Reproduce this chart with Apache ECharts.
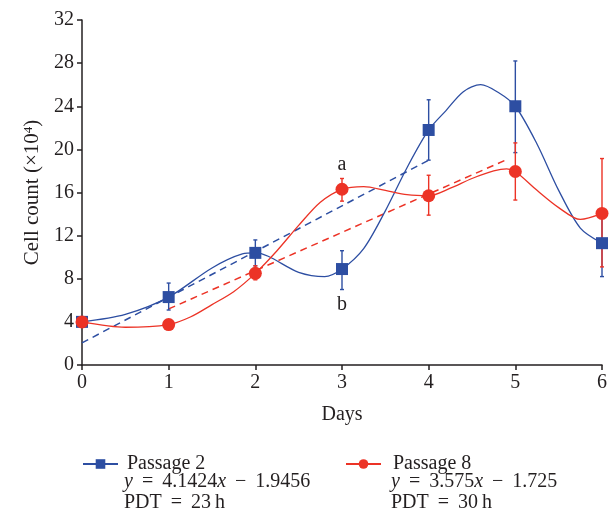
<!DOCTYPE html>
<html>
<head>
<meta charset="utf-8">
<script src="https://cdn.jsdelivr.net/npm/echarts@6/dist/echarts.min.js"></script>
<style>
  html, body { margin: 0; padding: 0; background: #fff; }
  #main { width: 612px; height: 514px; }
</style>
</head>
<body>
<div id="main"></div>
<script>
// measured points (days, mean, error bar low/high)
var days = [0, 1, 2, 3, 4, 5, 6];
var p2Mean = [4.0, 6.3, 10.4, 8.9, 21.8, 24.0, 11.3];
var p2Low = [4.0, 5.1, 9.2, 7.0, 19.0, 19.7, 8.2];
var p2High = [4.0, 7.6, 11.6, 10.6, 24.6, 28.2, 14.4];
var p8Mean = [4.0, 3.75, 8.5, 16.3, 15.7, 17.95, 14.06];
var p8Low = [4.0, 3.75, 7.9, 15.2, 13.9, 15.3, 9.1];
var p8High = [4.0, 3.75, 9.2, 17.3, 17.6, 20.6, 19.15];

var p2CurveX = [0.5, 1.5, 1.85, 2.5, 2.8, 3.25, 3.5, 3.75, 4.2, 4.4, 4.6, 4.8, 5.25, 5.5, 5.75];
var p2CurveY = [4.7, 9.0, 10.3, 8.6, 8.2, 10.8, 14.3, 18.3, 23.6, 25.35, 26.0, 25.3, 20.5, 16.2, 12.7];
var p8CurveX = [0.5, 1.25, 1.5, 1.75, 2.25, 2.5, 2.75, 3.25, 3.5, 3.75, 4.25, 4.5, 4.75, 4.9, 5.25, 5.5, 5.75];
var p8CurveY = [3.5, 4.45, 5.6, 6.8, 10.6, 12.95, 15.1, 16.55, 16.2, 15.8, 16.4, 17.3, 18.0, 18.2, 16.2, 14.6, 13.5];

// linear fits (dashed)
var p2TrendX = [0, 4];
var p2TrendY = [2.05, 19.0];
var p8TrendX = [1, 4.9];
var p8TrendY = [5.2, 19.05];

var letters = { 'Passage 2': {3: 'b'}, 'Passage 8': {3: 'a'} };

var BLUE = '#2d4ea2';
var RED = '#ec3326';
var INK = '#231f20';
var FONT = 'Liberation Serif';
var TS = '\u2009'; // thin space

var myChart = echarts.init(document.getElementById('main'));

function curveData(mean, cx, cy, name, labelPos, labelDist) {
  var pts = [];
  days.forEach(function (d, i) {
    var item = { value: [d, mean[i]] };
    var l = letters[name][i];
    if (l) {
      item.label = { show: true, formatter: l, position: labelPos, distance: labelDist,
        color: INK, fontFamily: FONT, fontSize: 20 };
    }
    pts.push(item);
  });
  cx.forEach(function (x, i) {
    pts.push({ value: [x, cy[i]], symbol: 'none' });
  });
  pts.sort(function (a, b) { return a.value[0] - b.value[0]; });
  return pts;
}

function errData(low, high) {
  return days.map(function (d, i) { return [d, low[i], high[i]]; });
}

function errRender(color) {
  return function (params, api) {
    var x = api.value(0);
    var lo = api.coord([x, api.value(1)]);
    var hi = api.coord([x, api.value(2)]);
    var cap = 2;
    var st = { stroke: color, lineWidth: 1.4 };
    return {
      type: 'group',
      children: [
        { type: 'line', shape: { x1: lo[0], y1: lo[1], x2: hi[0], y2: hi[1] }, style: st },
        { type: 'line', shape: { x1: lo[0] - cap, y1: lo[1], x2: lo[0] + cap, y2: lo[1] }, style: st },
        { type: 'line', shape: { x1: hi[0] - cap, y1: hi[1], x2: hi[0] + cap, y2: hi[1] }, style: st }
      ]
    };
  };
}

function zip(xs, ys) {
  return xs.map(function (x, i) { return [x, ys[i]]; });
}

var eqRich = { i: { fontStyle: 'italic', fontSize: 20, fontFamily: FONT, fill: INK } };

myChart.setOption({
  backgroundColor: '#fff',
  animation: false,
  textStyle: { fontFamily: FONT },
  grid: { left: 82, right: 10, top: 20, bottom: 149 },
  xAxis: {
    type: 'value', min: 0, max: 6, interval: 1,
    name: 'Days', nameLocation: 'middle', nameGap: 40,
    nameTextStyle: { color: INK, fontSize: 20, fontFamily: FONT },
    axisLine: { lineStyle: { color: INK, width: 1.5 } },
    axisTick: { length: 5, lineStyle: { color: INK, width: 1.5 } },
    axisLabel: { color: INK, fontSize: 20, fontFamily: FONT, margin: 8 },
    splitLine: { show: false }
  },
  yAxis: {
    type: 'value', min: 0, max: 32, interval: 4,
    name: 'Cell count (×10{sup|4})', nameLocation: 'middle', nameGap: 37, nameRotate: 90,
    nameTextStyle: { color: INK, fontSize: 21, fontFamily: FONT,
      rich: { sup: { fontSize: 13, fontFamily: FONT, color: INK, verticalAlign: 'top', padding: [0, 0, 9, 0] } } },
    axisLine: { show: true, lineStyle: { color: INK, width: 1.5 } },
    axisTick: { show: true, length: 5, lineStyle: { color: INK, width: 1.5 } },
    axisLabel: { color: INK, fontSize: 20, fontFamily: FONT, margin: 8 },
    splitLine: { show: false }
  },
  legend: [
    {
      data: ['Passage 2'], left: 77, top: 449, itemWidth: 35, itemHeight: 12,
      textStyle: { color: INK, fontSize: 20, fontFamily: FONT, padding: [0, 0, 0, 4] }
    },
    {
      data: ['Passage 8'], left: 340, top: 449, itemWidth: 35, itemHeight: 12,
      textStyle: { color: INK, fontSize: 20, fontFamily: FONT, padding: [0, 0, 0, 7] }
    }
  ],
  graphic: [
    { type: 'text', left: 124, top: 471, style: {
      text: '{i|y}' + TS + ' =' + TS + ' 4.1424{i|x}' + TS + ' −' + TS + ' 1.9456\nPDT' + TS + ' =' + TS + ' 23' + TS + 'h',
      fill: INK, font: '20px "Liberation Serif"', lineHeight: 21, rich: eqRich } },
    { type: 'text', left: 391, top: 471, style: {
      text: '{i|y}' + TS + ' =' + TS + ' 3.575{i|x}' + TS + ' −' + TS + ' 1.725\nPDT' + TS + ' =' + TS + ' 30' + TS + 'h',
      fill: INK, font: '20px "Liberation Serif"', lineHeight: 21, rich: eqRich } }
  ],
  series: [
    {
      name: 'p2fit', type: 'line', data: zip(p2TrendX, p2TrendY), symbol: 'none', z: 1,
      lineStyle: { color: BLUE, width: 1.5, type: [7, 5] }, silent: true
    },
    {
      name: 'p8fit', type: 'line', data: zip(p8TrendX, p8TrendY), symbol: 'none', z: 1,
      lineStyle: { color: RED, width: 1.5, type: [7, 5] }, silent: true
    },
    {
      name: 'p2err', type: 'custom', data: errData(p2Low, p2High), renderItem: errRender(BLUE), z: 2
    },
    {
      name: 'p8err', type: 'custom', data: errData(p8Low, p8High), renderItem: errRender(RED), z: 2
    },
    {
      name: 'Passage 2', type: 'line', smooth: 0.3, z: 3,
      data: curveData(p2Mean, p2CurveX, p2CurveY, 'Passage 2', 'bottom', 20),
      symbol: 'rect', symbolSize: 12, color: BLUE,
      itemStyle: { color: BLUE },
      lineStyle: { color: BLUE, width: 1.3 }
    },
    {
      name: 'Passage 8', type: 'line', smooth: 0.3, z: 4,
      data: curveData(p8Mean, p8CurveX, p8CurveY, 'Passage 8', 'top', 8),
      symbol: 'circle', symbolSize: 13, color: RED,
      itemStyle: { color: RED },
      lineStyle: { color: RED, width: 1.3 }
    }
  ]
});
</script>
</body>
</html>
